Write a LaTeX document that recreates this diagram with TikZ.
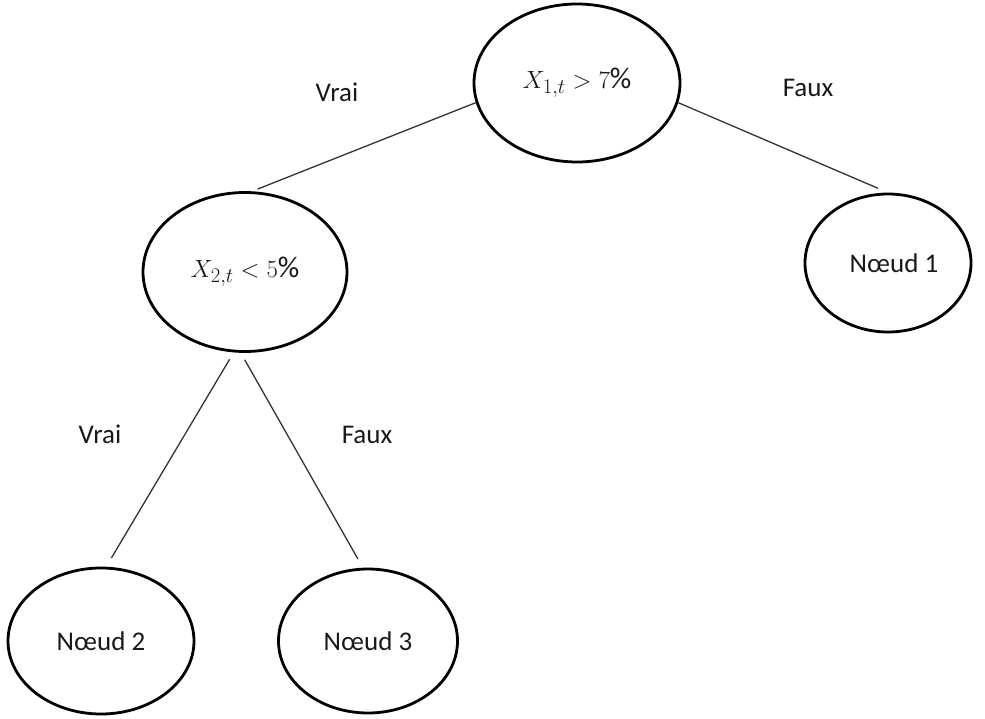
\documentclass[tikz,border=0pt]{standalone}
\usepackage{fontspec}
\setmainfont{Carlito}
\usetikzlibrary{shapes.geometric}
\begin{document}
\begin{tikzpicture}[x=1pt,y=-1pt,
  nodebox/.style={ellipse, draw, line width=2.8pt, inner sep=0pt, font=\fontsize{27}{31}\selectfont, text=black!90},
  mathbox/.style={nodebox, font=\fontsize{30}{34}\selectfont},
  lbl/.style={font=\fontsize{27}{31}\selectfont, text=black!90},
  conn/.style={line width=1.3pt, draw=black!80}]
\useasboundingbox (0,0) rectangle (985,719);
\node[mathbox, minimum width=206pt, minimum height=158pt] (top) at (577,83) {$X_{1,t} > 7\%$};
\node[mathbox, minimum width=204pt, minimum height=159pt] (cond) at (245,272) {$X_{2,t} < 5\%$};
\node[nodebox, minimum width=166pt, minimum height=138pt] (n1) at (888,263) {\hspace{12pt}Nœud 1};
\node[nodebox, minimum width=186pt, minimum height=146pt] (n2) at (101,641) {Nœud 2};
\node[nodebox, minimum width=179pt, minimum height=144pt] (n3) at (368,641) {Nœud 3};
\draw[conn, shorten >=6pt] (top.191) -- (cond.85);
\draw[conn, shorten >=11pt] (top.349) -- (n1.90);
\draw[conn, shorten <=8pt, shorten >=10pt] (cond.262) -- (n2.86);
\draw[conn, shorten <=8pt, shorten >=10pt] (cond.267) -- (n3.94);
\node[lbl] (v1) at (337,92) {Vrai};
\node[lbl] (f1) at (808,88) {Faux};
\node[lbl] (v2) at (100,434) {Vrai};
\node[lbl] (f2) at (367,435) {Faux};
\end{tikzpicture}
\end{document}
